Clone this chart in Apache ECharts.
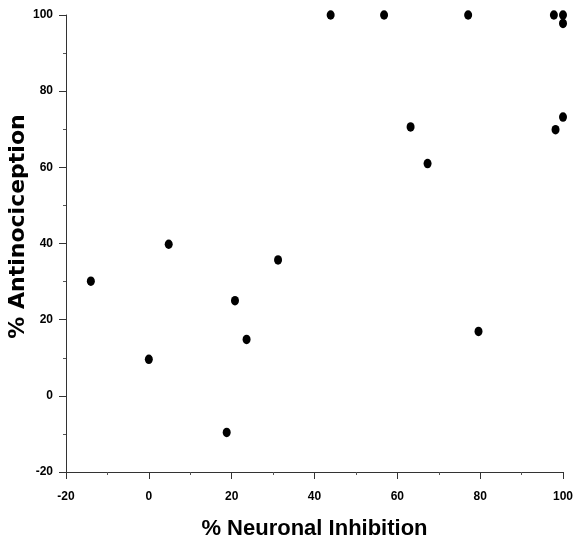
<!DOCTYPE html>
<html>
<head>
<meta charset="utf-8">
<script src="https://cdn.jsdelivr.net/npm/echarts@6/dist/echarts.min.js"></script>
<style>
html,body{margin:0;padding:0;background:#fff;}
#chart{width:576px;height:544px;}
</style>
</head>
<body>
<div id="chart"></div>
<script>
// % Neuronal Inhibition (x) and % Antinociception (y)
const neuronalInhibition = [-14, 0, 4.8, 18.8, 20.8, 23.6, 31.2, 43.9, 56.8, 77.1, 97.8, 100, 100, 63.2, 67.3, 98.2, 100, 79.6];
const antinociception   = [30.1, 9.6, 39.8, -9.6, 25.0, 14.8, 35.7, 100, 100, 100, 100, 100, 97.8, 70.6, 61.0, 69.9, 73.2, 16.9];
const xTicks = [-20, 0, 20, 40, 60, 80, 100];
const yTicks = [-20, 0, 20, 40, 60, 80, 100];

const points = neuronalInhibition.map((x, i) => [x, antinociception[i]]);

const chart = echarts.init(document.getElementById('chart'), null, {renderer: 'canvas'});
const axisCommon = {
  type: 'value',
  interval: 20,
  splitLine: {show: false},
  axisLine: {show: true, onZero: false, lineStyle: {color: '#333', width: 1}},
  axisTick: {show: true, inside: false, length: 7, lineStyle: {color: '#333'}},
  minorTick: {show: true, splitNumber: 2, length: 3, lineStyle: {color: '#555'}},
  axisLabel: {color: '#000', fontFamily: 'Liberation Sans, Arial', fontWeight: 'bold', fontSize: 12}
};
chart.setOption({
  animation: false,
  backgroundColor: '#fff',
  grid: {left: 66, right: 13, top: 15, bottom: 72, containLabel: false, outerBoundsMode: 'none'},
  xAxis: Object.assign({}, axisCommon, {
    min: xTicks[0], max: xTicks[xTicks.length - 1],
    name: '% Neuronal Inhibition', nameLocation: 'middle', nameGap: 46, nameMoveOverlap: false,
    nameTextStyle: {color: '#000', fontFamily: 'Liberation Sans, Arial', fontWeight: 'bold', fontSize: 22},
    axisLabel: Object.assign({}, axisCommon.axisLabel, {margin: 19})
  }),
  yAxis: Object.assign({}, axisCommon, {
    min: yTicks[0], max: yTicks[yTicks.length - 1],
    name: '% Antinociception', nameLocation: 'middle', nameGap: 37, nameMoveOverlap: false,
    nameTextStyle: {color: '#000', fontFamily: 'DejaVu Sans', fontWeight: 'bold', fontSize: 22, padding: [0, 0, 0, 34]},
    axisLabel: Object.assign({}, axisCommon.axisLabel, {margin: 13})
  }),
  series: [{
    type: 'scatter',
    data: points,
    symbol: 'circle',
    symbolSize: [8, 9.5],
    itemStyle: {color: '#000', opacity: 1}
  }]
});
</script>
</body>
</html>
